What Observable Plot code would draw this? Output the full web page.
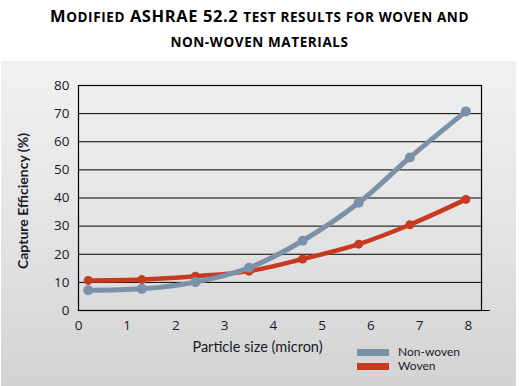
<!DOCTYPE html>
<html>
<head>
<meta charset="utf-8">
<script src="https://cdn.jsdelivr.net/npm/d3@7"></script>
<script src="https://cdn.jsdelivr.net/npm/@observablehq/plot@0.6"></script>
<style>
  html, body { margin: 0; padding: 0; background: #ffffff; }
  #wrap { position: relative; width: 519px; height: 386px; overflow: hidden; font-family: "Open Sans", sans-serif; }
  #panel { position: absolute; left: 1px; top: 61px; width: 515px; height: 325px;
           background: linear-gradient(to bottom, #f1f1f1 0%, #e4e4e4 50%, #d3d3d3 100%); }
  #title { position: absolute; left: 0; top: 4px; width: 519px; text-align: center;
           font-weight: 700; font-size: 16.5px; line-height: 24px; letter-spacing: 0.6px; color: #000; }
  #title .sc { font-size: 13.5px; text-transform: uppercase; }
  #chart { position: absolute; left: 0; top: 60px; }
  #xtitle { position: absolute; left: 157.5px; width: 200px; top: 338px; height: 18px; line-height: 18px;
            text-align: center; font-family: Lato, sans-serif; font-size: 14.5px; color: #1a1a2a; }
  #ytitle { position: absolute; left: -77.5px; width: 200px; top: 192px; height: 18px; line-height: 18px;
            text-align: center; font-family: Lato, sans-serif; font-weight: 700; font-size: 14px; color: #1a1a2a;
            transform: rotate(-90deg); }
  #legend { position: absolute; left: 357px; top: 345px; font-family: Lato, sans-serif; font-size: 12px; line-height: 14px; color: #1a1a2a; }
  .item { display: flex; align-items: center; height: 14px; line-height: 14px; }
  .sw { width: 32px; height: 7px; margin-right: 9px; }
  .lab { display: block; height: 14px; line-height: 14px; }
</style>
</head>
<body>
<div id="wrap">
  <div id="panel"></div>
  <div id="title">M<span class="sc">odified</span> ASHRAE 52.2 <span class="sc">test results for woven and</span><br><span class="sc">non-woven materials</span></div>
  <div id="chart"></div>
  <div id="xtitle"></div>
  <div id="ytitle"></div>
  <div id="legend"></div>
</div>
<script>
const particleSize = [0.2, 1.3, 2.4, 3.5, 4.6, 5.75, 6.8, 7.95];
const nonWoven = [7.2, 7.7, 10.1, 15.2, 24.8, 38.3, 54.4, 70.8];
const woven = [10.7, 11.0, 12.2, 14.0, 18.3, 23.6, 30.5, 39.5];
const seriesNames = ["Non-woven", "Woven"];
const seriesColors = ["#7b91a8", "#c9391f"];
const xTicks = [0, 1, 2, 3, 4, 5, 6, 7, 8];
const yTicks = [0, 10, 20, 30, 40, 50, 60, 70, 80];
const xTitle = "Particle size (micron)";
const yTitle = "Capture Efficiency (%)";

const rows = [];
particleSize.forEach((x, i) => {
  rows.push({series: seriesNames[0], x, y: nonWoven[i]});
  rows.push({series: seriesNames[1], x, y: woven[i]});
});
const nw = rows.filter(d => d.series === seriesNames[0]);
const wv = rows.filter(d => d.series === seriesNames[1]);

const chart = Plot.plot({
  width: 519,
  height: 326,
  marginLeft: 78,
  marginRight: 38,
  marginTop: 25,
  marginBottom: 76,
  style: {background: "transparent", fontSize: "13px", fontFamily: "'Open Sans', sans-serif", color: "#1a1a2a", overflow: "visible"},
  x: {domain: [0, 8.27]},
  y: {domain: [0, 80]},
  marks: [
    Plot.ruleY(yTicks.filter(d => d > 0 && d < 80), {x1: 0, x2: 8.3, stroke: "#000", strokeWidth: 1, clip: false}),
    Plot.frame({stroke: "#000", strokeWidth: 1.2}),
    Plot.ruleY([0], {x1: 0, x2: 8.45, stroke: "#000", strokeWidth: 1.2, clip: false}),
    Plot.axisX(xTicks, {tickSize: 0, tickPadding: 10, label: null, fontSize: 13.5}),
    Plot.axisY(yTicks, {tickSize: 0, tickPadding: 9, label: null, fontSize: 13.5}),
    Plot.line(wv, {x: "x", y: "y", stroke: seriesColors[1], strokeWidth: 4.5, curve: "catmull-rom"}),
    Plot.dot(wv, {x: "x", y: "y", fill: seriesColors[1], r: 4.5}),
    Plot.line(nw, {x: "x", y: "y", stroke: seriesColors[0], strokeWidth: 5, curve: "catmull-rom"}),
    Plot.dot(nw, {x: "x", y: "y", fill: seriesColors[0], r: 5})
  ]
});
document.getElementById("chart").appendChild(chart);
document.getElementById("xtitle").textContent = xTitle;
document.getElementById("ytitle").textContent = yTitle;

const legend = document.getElementById("legend");
seriesNames.forEach((name, i) => {
  const item = document.createElement("div");
  item.className = "item";
  const sw = document.createElement("div");
  sw.className = "sw";
  sw.style.background = seriesColors[i];
  const label = document.createElement("span");
  label.className = "lab";
  label.textContent = name;
  item.appendChild(sw);
  item.appendChild(label);
  legend.appendChild(item);
});
</script>
</body>
</html>
